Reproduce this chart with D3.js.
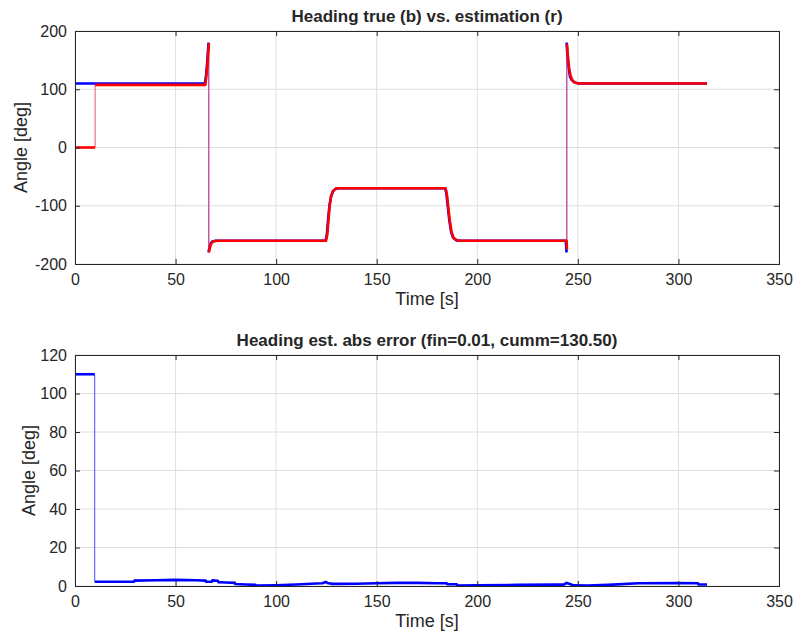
<!DOCTYPE html>
<html><head><meta charset="utf-8">
<script src="https://cdn.jsdelivr.net/npm/d3@7"></script>
<style>
body{margin:0;background:#fff;}
text{font-family:"Liberation Sans",Arial,Helvetica,sans-serif;fill:#262626;}
</style></head>
<body>
<svg id="chart" width="796" height="638"></svg>
<script>
// ---- data ----
const xTicks = [0,50,100,150,200,250,300,350];
const topYTicks = [-200,-100,0,100,200];
const botYTicks = [0,20,40,60,80,100,120];

// true heading (blue)
const trueT = [0,64.6,65.2,65.7,66.1,66.4, 66.4,66.8,67.3,68.0,70,124.6,125.2,125.8,126.5,127.3,128.3,129.5,131,184,184.6,185.3,186.1,187,188,189.5,191,244.0,244.2,244.4, 244.4,244.8,245.3,246.1,246.9,247.8,248.8,250.5,314.2];
const trueV = [110,110,125,145,165,180, -180,-172,-166,-162,-160,-160,-150,-125,-100,-84,-75,-71,-70,-70,-78,-100,-125,-145,-155,-159,-160,-160,-170,-180, 180,160,140,121.5,116,113,111,110,110];

// estimated heading (red)
const estT = [0,10, 10,64.8,65.3,65.8,66.2,66.6, 66.6,67.0,67.5,68.2,69.5,72,124.8,125.4,126,126.6,127.3,128.2,129.5,131,184.2,184.8,185.5,186.3,187.2,188.2,189.6,191.5,244.4,244.6, 244.6,245.0,245.6,246.3,247.2,248.4,250.5,314.2];
const estV = [0,0, 107.5,107.5,122,142,162,179, -180,-173,-167,-162.5,-160.5,-160,-160,-150,-125,-100,-84,-75,-71,-70,-70,-78,-100,-125,-145,-155,-159,-160,-160,-175, 178,158,138,124,116,111.5,110,110];

// absolute error
const errT = [0,9.8, 9.8,29.3,29.5,40,50,60,65,65.2,68,68.3,71,71.3,75,79.5,79.7,85,89.8,90,100,110,120,123,124.6,126,128,140,150,160,170,180,184.8,185,189.8,190,200,220,240,243,244.4,246,248,255,265,280,300,309.8,310,314.2];
const errV = [110,110, 2.2,2.2,2.8,3.0,3.2,3.0,2.8,2.2,2.2,2.9,2.7,2.0,1.8,1.6,1.0,0.8,0.6,0.2,0.4,0.8,1.3,1.4,2.1,1.4,1.1,1.2,1.4,1.6,1.6,1.4,1.4,0.9,0.9,0.2,0.3,0.6,0.8,0.7,1.6,1.0,0.3,0.2,0.6,1.4,1.5,1.4,0.8,0.8];

const topTitle = "Heading true (b) vs. estimation (r)";
const botTitle = "Heading est. abs error (fin=0.01, cumm=130.50)";
const xLabel = "Time [s]";
const yLabel = "Angle [deg]";

// ---- drawing ----
const svg = d3.select("#chart");
const axCol = "#262626", gridCol = "#dedede";

function panel(box, yDom, yTicks, title, ylabX, seriesList){
  const x = d3.scaleLinear().domain([0,350]).range([box.l, box.r]);
  const y = d3.scaleLinear().domain(yDom).range([box.b, box.t]);
  const g = svg.append("g");
  // grid
  g.append("g").selectAll("line").data(xTicks).join("line")
    .attr("x1",d=>x(d)).attr("x2",d=>x(d)).attr("y1",box.t).attr("y2",box.b)
    .attr("stroke",gridCol).attr("stroke-width",1);
  g.append("g").selectAll("line").data(yTicks).join("line")
    .attr("y1",d=>y(d)).attr("y2",d=>y(d)).attr("x1",box.l).attr("x2",box.r)
    .attr("stroke",gridCol).attr("stroke-width",1);
  // series
  const clip = "clip"+Math.round(box.t);
  svg.append("clipPath").attr("id",clip).append("rect")
    .attr("x",box.l).attr("y",box.t-3).attr("width",box.r-box.l).attr("height",box.b-box.t+6);
  const sg = g.append("g").attr("clip-path",`url(#${clip})`);
  seriesList.forEach(s=>{
    const pts = s.t.map((t,i)=>[t,s.v[i]]);
    // split into continuous runs; vertical jumps (equal t) drawn thin
    let runs=[[]], jumps=[];
    pts.forEach((p,i)=>{
      if(i>0 && p[0]===pts[i-1][0]){ jumps.push([pts[i-1],p]); runs.push([]); }
      runs[runs.length-1].push(p);
    });
    const line = d3.line().x(d=>x(d[0])).y(d=>y(d[1]));
    jumps.forEach(j=>{
      sg.append("path").attr("d",line(j)).attr("fill","none")
        .attr("stroke",s.jumpColor).attr("stroke-width",1);
    });
    runs.forEach(r=>{
      sg.append("path").attr("d",line(r)).attr("fill","none")
        .attr("stroke",s.color).attr("stroke-width",2.6)
        .attr("stroke-linejoin","round").attr("stroke-linecap","butt");
    });
  });
  // axes
  const ax = g.append("g");
  ax.append("g").attr("transform",`translate(0,${box.b})`)
    .call(d3.axisBottom(x).tickValues(xTicks).tickSize(-5).tickPadding(10).tickFormat(d3.format("d")));
  ax.append("g").attr("transform",`translate(0,${box.t})`)
    .call(d3.axisTop(x).tickValues(xTicks).tickSize(-5).tickFormat(""));
  ax.append("g").attr("transform",`translate(${box.l},0)`)
    .call(d3.axisLeft(y).tickValues(yTicks).tickSize(-5).tickPadding(8).tickFormat(d=>String(d).replace("\u2212","-")));
  ax.append("g").attr("transform",`translate(${box.r},0)`)
    .call(d3.axisRight(y).tickValues(yTicks).tickSize(-5).tickFormat(""));
  ax.selectAll(".domain").attr("stroke",axCol).attr("stroke-width",1);
  ax.selectAll(".tick line").attr("stroke",axCol);
  ax.selectAll(".tick text").attr("font-size",16).attr("fill",axCol)
    .attr("font-family",'"Liberation Sans",Arial,sans-serif');
  // title & labels
  svg.append("text").attr("x",(box.l+box.r)/2).attr("y",box.t-9)
    .attr("text-anchor","middle").attr("font-size",17).attr("font-weight","bold")
    .text(title);
  svg.append("text").attr("x",(box.l+box.r)/2).attr("y",box.b+41)
    .attr("text-anchor","middle").attr("font-size",18).text(xLabel);
  svg.append("text").attr("transform",`translate(${ylabX},${(box.t+box.b)/2}) rotate(-90)`)
    .attr("text-anchor","middle").attr("font-size",18).text(yLabel);
}

panel({l:75,r:779,t:31,b:264},[-200,200],topYTicks,topTitle,27,[
  {t:trueT,v:trueV,color:"#0000ff",jumpColor:"#6a6aff"},
  {t:estT,v:estV,color:"#ff0000",jumpColor:"#f0506a"}
]);
panel({l:75,r:779,t:355,b:586},[0,120],botYTicks,botTitle,35,[
  {t:errT,v:errV,color:"#0000ff",jumpColor:"#4a4aff"}
]);
</script>
</body></html>
